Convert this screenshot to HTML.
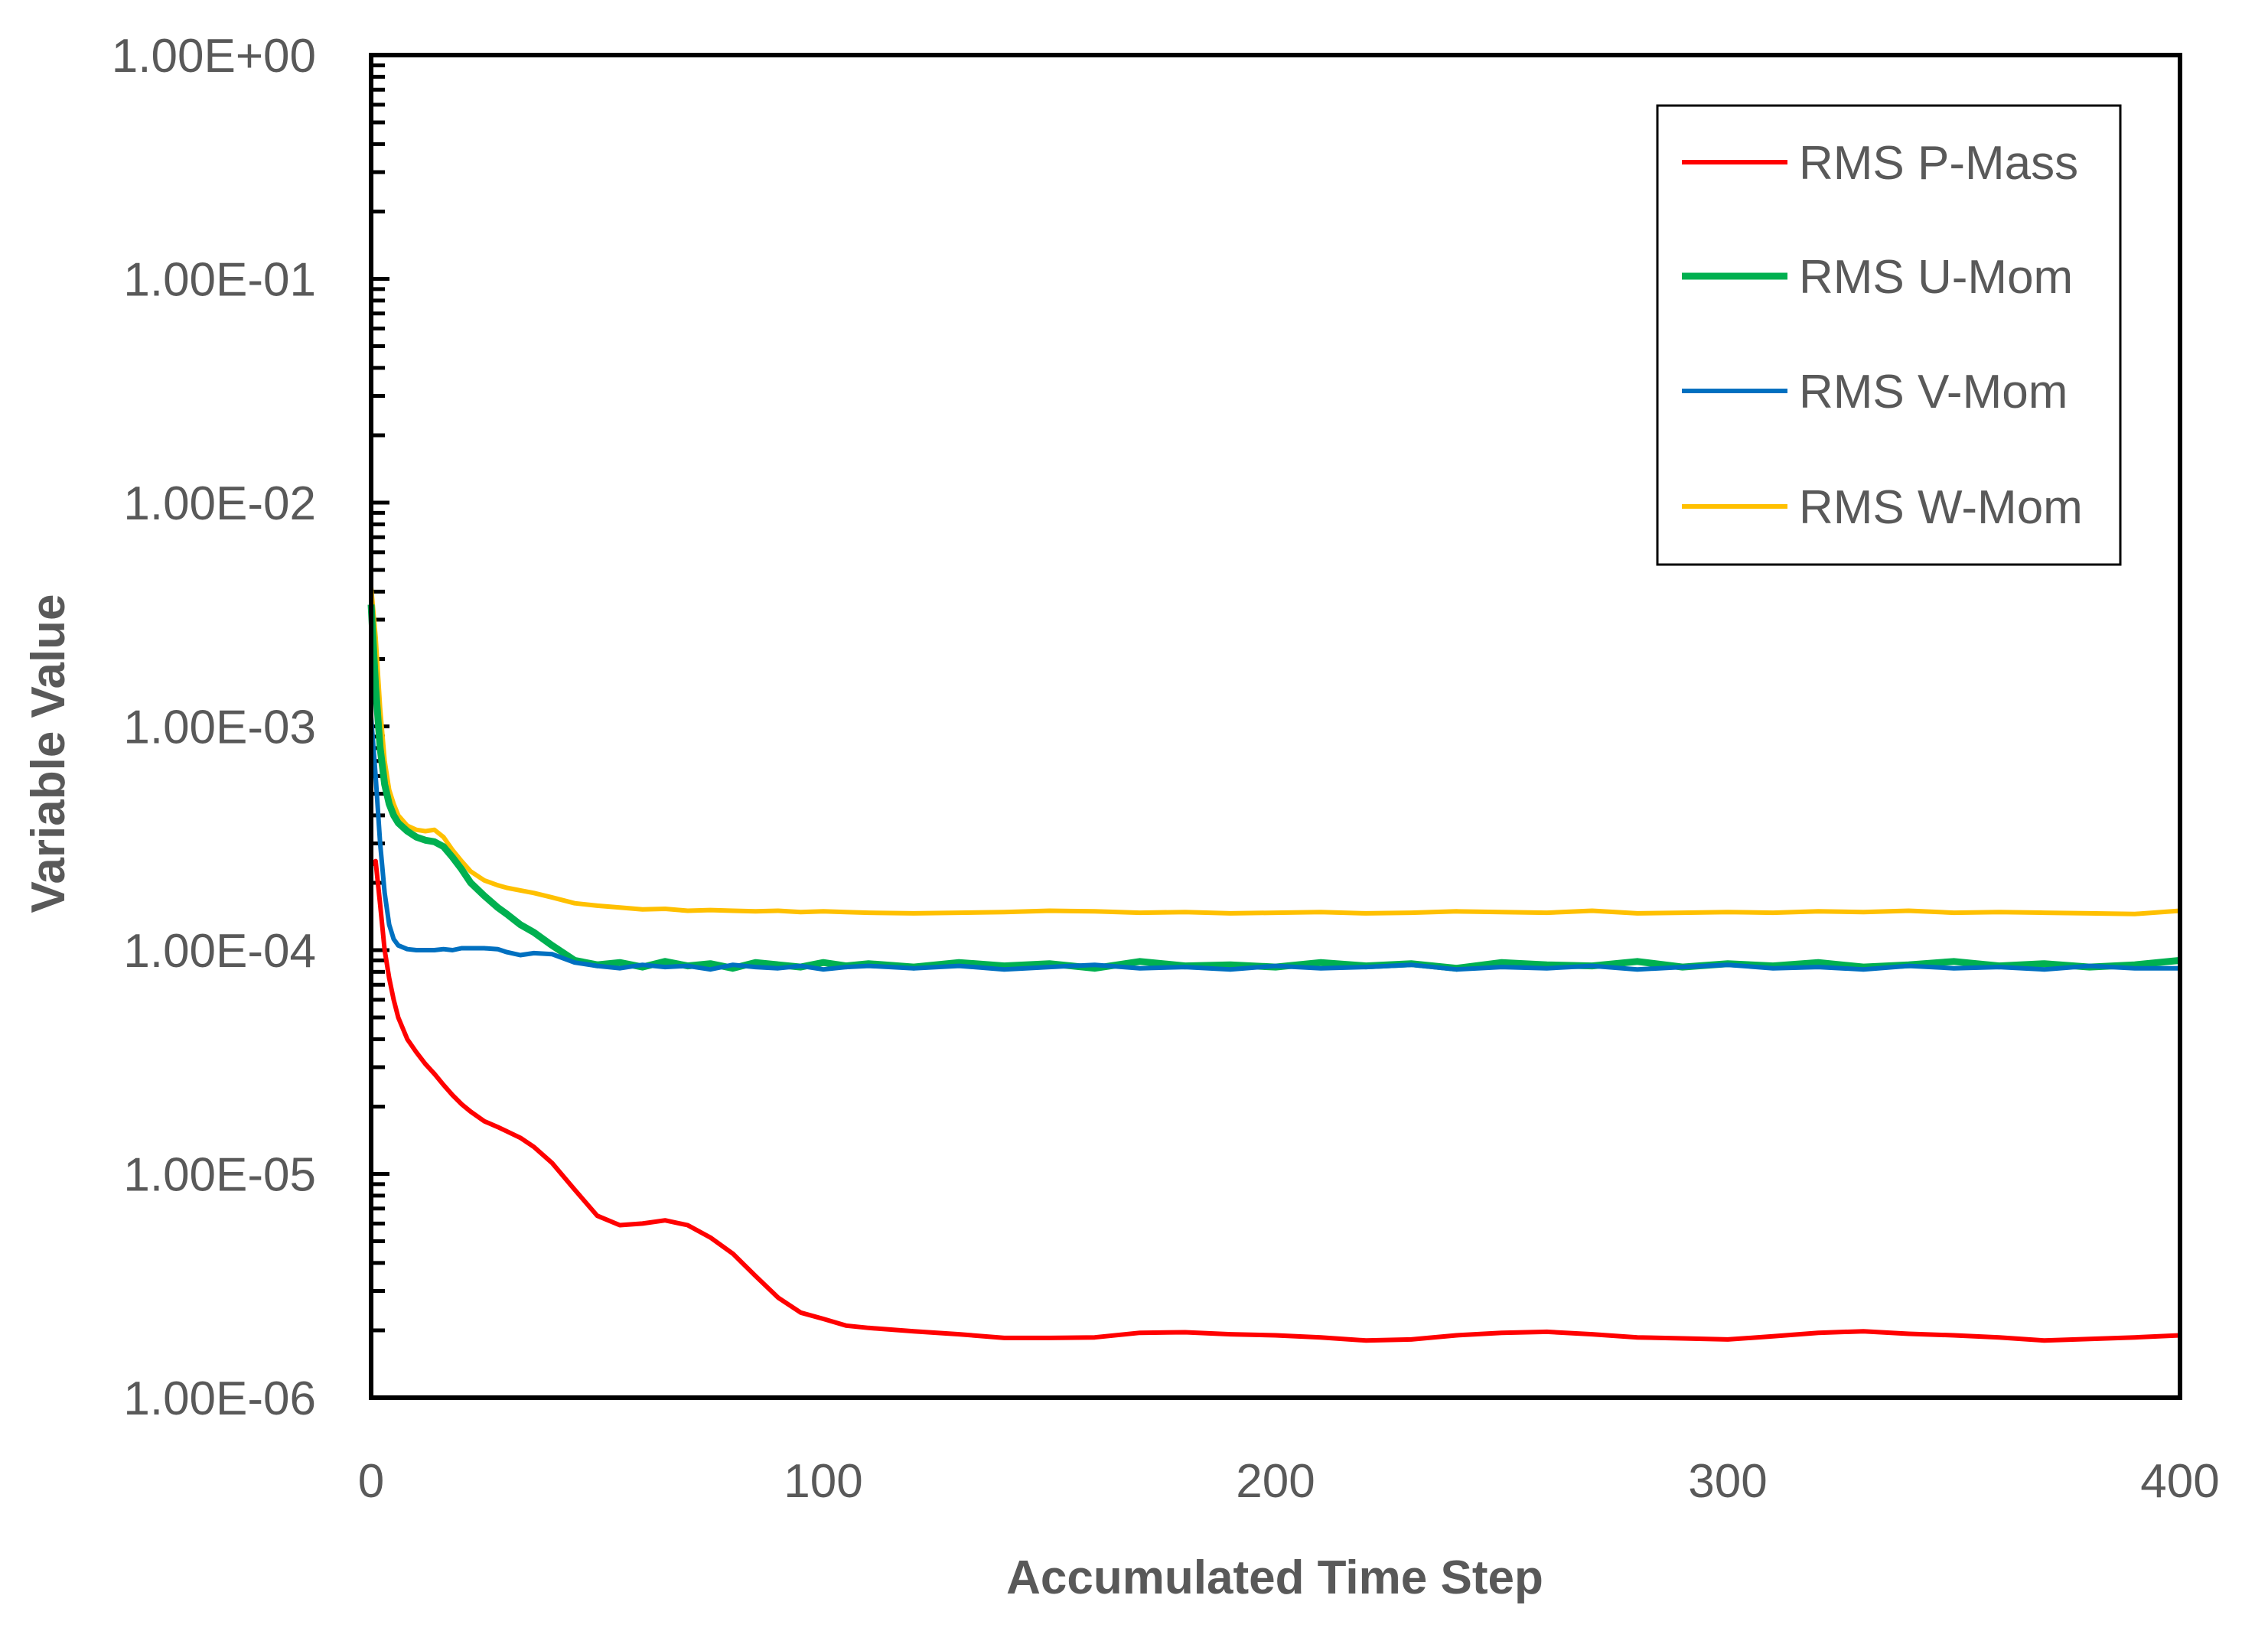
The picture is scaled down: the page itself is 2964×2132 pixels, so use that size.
<!DOCTYPE html>
<html><head><meta charset="utf-8"><style>
html,body{margin:0;padding:0;background:#fff}
svg{display:block}
text{font-family:"Liberation Sans",sans-serif;fill:#595959}
</style></head><body>
<svg id="chart" width="2964" height="2132" viewBox="0 0 2964 2132" xmlns="http://www.w3.org/2000/svg">
<rect x="0" y="0" width="2964" height="2132" fill="#fff"/>
<g id="plot"></g>
<text x="1666" y="2083" font-size="62" font-weight="bold" text-anchor="middle">Accumulated Time Step</text>
<text x="0" y="0" font-size="62" font-weight="bold" text-anchor="middle" transform="translate(84,985) rotate(-90)">Variable Value</text>
<g>
<rect x="2166" y="138" width="605" height="600" fill="#fff" stroke="#000" stroke-width="3"/>
<line x1="2198" y1="212" x2="2336" y2="212" stroke="#ff0000" stroke-width="6"/>
<text x="2351" y="234" font-size="62">RMS P-Mass</text>
<line x1="2198" y1="361" x2="2336" y2="361" stroke="#00b050" stroke-width="9"/>
<text x="2351" y="383" font-size="62">RMS U-Mom</text>
<line x1="2198" y1="511" x2="2336" y2="511" stroke="#0070c0" stroke-width="6"/>
<text x="2351" y="533" font-size="62">RMS V-Mom</text>
<line x1="2198" y1="662" x2="2336" y2="662" stroke="#ffc000" stroke-width="6"/>
<text x="2351" y="684" font-size="62">RMS W-Mom</text>
</g>
</svg>
<script>
const steps = [0,1,2,3,4,5,6, 8,10,12,14,16,18,20,22, 25,28,30,33,36,40,45, 50,55,60,65,70,75,80,85,90,95,100,105,110,
 120,130,140,150,160,170,180,190,200,210,220,230,240,250,260,270,280,290,300,310,320,330,340,350,360,370,380,390,400];
const pMass = [2.4e-4,2.5e-4,1.6e-4,1e-4,7.5e-5,6e-5,5e-5, 4e-5,3.5e-5,3.1e-5,2.8e-5,2.5e-5,2.25e-5,2.05e-5,1.9e-5,
 1.72e-5,1.62e-5,1.55e-5,1.45e-5,1.32e-5,1.12e-5,8.5e-6, 6.5e-6,5.9e-6,6e-6,6.2e-6,5.9e-6,5.2e-6,4.4e-6,3.5e-6,2.8e-6,2.4e-6,2.25e-6,2.1e-6,2.05e-6,
 1.98e-6,1.92e-6,1.85e-6,1.85e-6,1.86e-6,1.95e-6,1.96e-6,1.92e-6,1.9e-6,1.86e-6,1.8e-6,1.82e-6,1.9e-6,1.95e-6,1.97e-6,1.92e-6,1.86e-6,1.84e-6,1.82e-6,1.88e-6,1.95e-6,1.98e-6,1.93e-6,1.9e-6,1.86e-6,1.8e-6,1.83e-6,1.86e-6,1.9e-6];
const uMom = [3.5e-3,1.5e-3,8e-4,5.5e-4,4.5e-4,4e-4,3.7e-4, 3.4e-4,3.2e-4,3.1e-4,3.05e-4,2.9e-4,2.6e-4,2.3e-4,2e-4,
 1.75e-4,1.55e-4,1.45e-4,1.3e-4,1.2e-4,1.05e-4,9e-5, 8.6e-5,8.8e-5,8.4e-5,8.9e-5,8.5e-5,8.7e-5,8.3e-5,8.8e-5,8.6e-5,8.4e-5,8.8e-5,8.5e-5,8.7e-5,
 8.4e-5,8.8e-5,8.5e-5,8.7e-5,8.3e-5,8.9e-5,8.5e-5,8.6e-5,8.4e-5,8.8e-5,8.5e-5,8.7e-5,8.3e-5,8.8e-5,8.6e-5,8.5e-5,8.9e-5,8.4e-5,8.7e-5,8.5e-5,8.8e-5,8.4e-5,8.6e-5,8.9e-5,8.5e-5,8.7e-5,8.4e-5,8.6e-5,9.0e-5];
const vMom = [1.1e-3,6e-4,3e-4,1.8e-4,1.3e-4,1.12e-4,1.05e-4, 1.01e-4,1e-4,1e-4,1e-4,1.01e-4,1e-4,1.02e-4,1.02e-4,
 1.02e-4,1.01e-4,9.8e-5,9.5e-5,9.7e-5,9.6e-5,8.8e-5, 8.5e-5,8.3e-5,8.6e-5,8.4e-5,8.5e-5,8.2e-5,8.6e-5,8.4e-5,8.3e-5,8.5e-5,8.2e-5,8.4e-5,8.5e-5,
 8.3e-5,8.5e-5,8.2e-5,8.4e-5,8.6e-5,8.3e-5,8.4e-5,8.2e-5,8.5e-5,8.3e-5,8.4e-5,8.6e-5,8.2e-5,8.4e-5,8.3e-5,8.5e-5,8.2e-5,8.4e-5,8.6e-5,8.3e-5,8.4e-5,8.2e-5,8.5e-5,8.3e-5,8.4e-5,8.2e-5,8.5e-5,8.3e-5,8.3e-5];
const wMom = [4.2e-3,2.5e-3,1.2e-3,7e-4,5.2e-4,4.5e-4,4e-4, 3.6e-4,3.45e-4,3.4e-4,3.45e-4,3.2e-4,2.8e-4,2.5e-4,2.25e-4,
 2.05e-4,1.95e-4,1.9e-4,1.85e-4,1.8e-4,1.72e-4,1.62e-4, 1.58e-4,1.55e-4,1.52e-4,1.53e-4,1.5e-4,1.51e-4,1.5e-4,1.49e-4,1.5e-4,1.48e-4,1.49e-4,1.48e-4,1.47e-4,
 1.46e-4,1.47e-4,1.48e-4,1.5e-4,1.49e-4,1.47e-4,1.48e-4,1.46e-4,1.47e-4,1.48e-4,1.46e-4,1.47e-4,1.49e-4,1.48e-4,1.47e-4,1.5e-4,1.46e-4,1.47e-4,1.48e-4,1.47e-4,1.49e-4,1.48e-4,1.5e-4,1.47e-4,1.48e-4,1.47e-4,1.46e-4,1.45e-4,1.5e-4];
const xTicks = [0,100,200,300,400];
const yTickExps = [0,-1,-2,-3,-4,-5,-6];
const yTickLabels = ["1.00E+00","1.00E-01","1.00E-02","1.00E-03","1.00E-04","1.00E-05","1.00E-06"];

const L=485, R=2849, T=72, B=1827;
const NS="http://www.w3.org/2000/svg";
function xs(v){return L+(v-0)/(400-0)*(R-L);}
function ys(v){return T+(0-Math.log10(v))/6*(B-T);}
const g=document.getElementById('plot');
function mk(tag,attrs){const e=document.createElementNS(NS,tag);for(const k in attrs)e.setAttribute(k,attrs[k]);g.appendChild(e);return e;}

for(let d=0; d>-6; d--){
  for(let m=1;m<10;m++){
    const v=m*Math.pow(10,d-1);
    const y=ys(v);
    const len = m===1?24:18;
    const t=mk('line',{x1:L,x2:L+len,y1:y,y2:y,stroke:'#000','stroke-width':5});
    
    
  }
}
yTickExps.forEach((e,i)=>{
  const t=mk('text',{x:413,y:ys(Math.pow(10,e))+22,'font-size':62,'text-anchor':'end'});
  t.textContent=yTickLabels[i];
  
  
});
xTicks.forEach(v=>{
  const t=mk('text',{x:xs(v),y:1957,'font-size':62,'text-anchor':'middle'});
  t.textContent=String(v);
  
  
});
const series=[[wMom,'#ffc000',6,'series-w-mom'],[uMom,'#00b050',9,'series-u-mom'],[vMom,'#0070c0',6,'series-v-mom'],[pMass,'#ff0000',6,'series-p-mass']];
series.forEach(s=>{
  const d=steps.map((x,i)=>(i?'L':'M')+xs(x).toFixed(1)+' '+ys(s[0][i]).toFixed(1)).join(' ');
  const p=mk('path',{d:d,fill:'none',stroke:s[1],'stroke-width':s[2],'stroke-linejoin':'round'});
  
  
});
const frame=mk('rect',{x:L,y:T,width:R-L,height:B-T,fill:'none',stroke:'#000','stroke-width':6});


</script>
</body></html>
